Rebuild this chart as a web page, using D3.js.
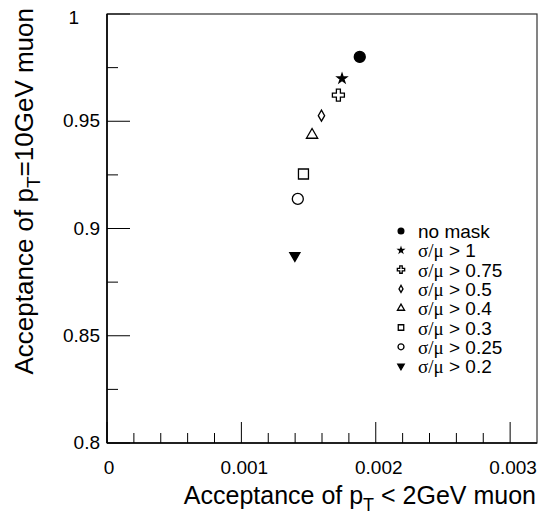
<!DOCTYPE html>
<html>
<head>
<meta charset="utf-8">
<script src="https://cdn.jsdelivr.net/npm/d3@7"></script>
<style>
  body { margin: 0; background: #fff; }
  text { font-family: "Liberation Sans", Arial, sans-serif; fill: #000; }
</style>
</head>
<body>
<svg id="chart" width="543" height="516"></svg>
<script>
// data
var labels = ["no mask", "1", "0.75", "0.5", "0.4", "0.3", "0.25", "0.2"];
var xVals = [0.001881, 0.001749, 0.001722, 0.001596, 0.001526, 0.001462, 0.001420, 0.001398];
var yVals = [0.9800, 0.9699, 0.9622, 0.9526, 0.9436, 0.9254, 0.9138, 0.8874];
var xTicks = [0, 0.001, 0.002, 0.003];
var yTicks = [0.8, 0.85, 0.9, 0.95, 1];

var markers = [
  {type: d3.symbolCircle,   big: 95, small: 26, fill: "#000", rot: 0},
  {type: d3.symbolStar,     big: 28, small: 8, fill: "#000", rot: 0},
  {type: d3.symbolCross,    big: 80, small: 30, fill: "#fff", rot: 0},
  {type: d3.symbolDiamond,  big: 35, small: 14, fill: "#fff", rot: 0},
  {type: d3.symbolTriangle, big: 55, small: 22, fill: "#fff", rot: 0},
  {type: d3.symbolSquare,   big: 100, small: 30, fill: "#fff", rot: 0},
  {type: d3.symbolCircle,   big: 95, small: 28, fill: "#fff", rot: 0},
  {type: d3.symbolTriangle, big: 45, small: 18, fill: "#000", rot: 180}
];

var svg = d3.select("#chart");
var pl = 107, pr = 537, pt = 14, pb = 443;

var x = d3.scaleLinear().domain([0, 0.0032]).range([pl, pr]);
var y = d3.scaleLinear().domain([0.8, 1]).range([pb, pt]);

// frame
svg.append("rect")
  .attr("x", pl).attr("y", pt)
  .attr("width", pr - pl).attr("height", pb - pt)
  .attr("fill", "none").attr("stroke", "#333").attr("stroke-width", 1.2);

// x axis ticks (inside)
var xMinor = d3.range(0, 16).map(function(i) { return i * 0.0002; });
svg.append("g").selectAll("line")
  .data(xMinor)
  .enter().append("line")
  .attr("x1", function(d) { return x(d); })
  .attr("x2", function(d) { return x(d); })
  .attr("y1", pb)
  .attr("y2", function(d, i) { return i % 5 == 0 ? pb - 21 : pb - 10; })
  .attr("stroke", "#000").attr("stroke-width", 1);

svg.append("g").selectAll("text")
  .data(xTicks)
  .enter().append("text")
  .attr("x", function(d) { return x(d) + (d == 0 ? 2 : 3); })
  .attr("y", 474)
  .attr("text-anchor", "middle")
  .style("font-size", "19px")
  .text(function(d) { return d == 0 ? "0" : d3.format(".3f")(d); });

// y axis ticks (inside)
var yMinor = d3.range(0, 9).map(function(i) { return 0.8 + i * 0.025; });
svg.append("g").selectAll("line")
  .data(yMinor)
  .enter().append("line")
  .attr("y1", function(d) { return y(d); })
  .attr("y2", function(d) { return y(d); })
  .attr("x1", pl)
  .attr("x2", function(d, i) { return i % 2 == 0 ? pl + 23 : pl + 11; })
  .attr("stroke", "#000").attr("stroke-width", 1);

svg.append("g").selectAll("text")
  .data(yTicks)
  .enter().append("text")
  .attr("x", function(d) { return d == 1 ? 79 : 100; })
  .attr("y", function(d) { return y(d) + (d == 1 ? 10 : 6); })
  .attr("text-anchor", "end")
  .style("font-size", "19px")
  .text(function(d) { return String(d); });

// axis lines
svg.append("line").attr("x1", pl).attr("x2", pr).attr("y1", pb).attr("y2", pb)
  .attr("stroke", "#000").attr("stroke-width", 1.6);
svg.append("line").attr("x1", pl).attr("x2", pl).attr("y1", pt).attr("y2", pb)
  .attr("stroke", "#000").attr("stroke-width", 1.6);

// axis titles
var xt = svg.append("text")
  .attr("x", 536).attr("y", 504)
  .attr("text-anchor", "end")
  .style("font-size", "25px");
xt.append("tspan").text("Acceptance of p");
xt.append("tspan").attr("dy", 7).style("font-size", "18px").text("T");
xt.append("tspan").attr("dy", -7).text(" < 2GeV muon");

var yt = svg.append("text")
  .attr("transform", "translate(33,8) rotate(-90)")
  .attr("text-anchor", "end")
  .style("font-size", "26px");
yt.append("tspan").text("Acceptance of p");
yt.append("tspan").attr("dy", 7).style("font-size", "19px").text("T");
yt.append("tspan").attr("dy", -7).text("=10GeV muon");

// points
function sym(i, big) {
  var m = markers[i];
  return d3.symbol().type(m.type).size(big ? m.big : m.small)();
}

svg.append("g").selectAll("path")
  .data(xVals)
  .enter().append("path")
  .attr("d", function(d, i) { return sym(i, true); })
  .attr("transform", function(d, i) {
    return "translate(" + x(d) + "," + y(yVals[i]) + ") rotate(" + markers[i].rot + ")";
  })
  .attr("fill", function(d, i) { return markers[i].fill; })
  .attr("stroke", "#000").attr("stroke-width", 1.3);

// legend
var leg = svg.append("g").selectAll("g")
  .data(labels)
  .enter().append("g")
  .attr("transform", function(d, i) { return "translate(401," + (231 + i * 19.3) + ")"; });

leg.append("path")
  .attr("d", function(d, i) { return sym(i, false); })
  .attr("transform", function(d, i) { return "rotate(" + markers[i].rot + ")"; })
  .attr("fill", function(d, i) { return markers[i].fill; })
  .attr("stroke", "#000").attr("stroke-width", 1.3);

leg.each(function(d, i) {
  var t = d3.select(this).append("text")
    .attr("x", 17).attr("y", 7)
    .style("font-size", "19px");
  if (i == 0) {
    t.text(d);
  } else {
    t.append("tspan").style("font-family", "'Liberation Serif', serif").text("σ/μ");
    t.append("tspan").text(" > " + d);
  }
});
</script>
</body>
</html>
